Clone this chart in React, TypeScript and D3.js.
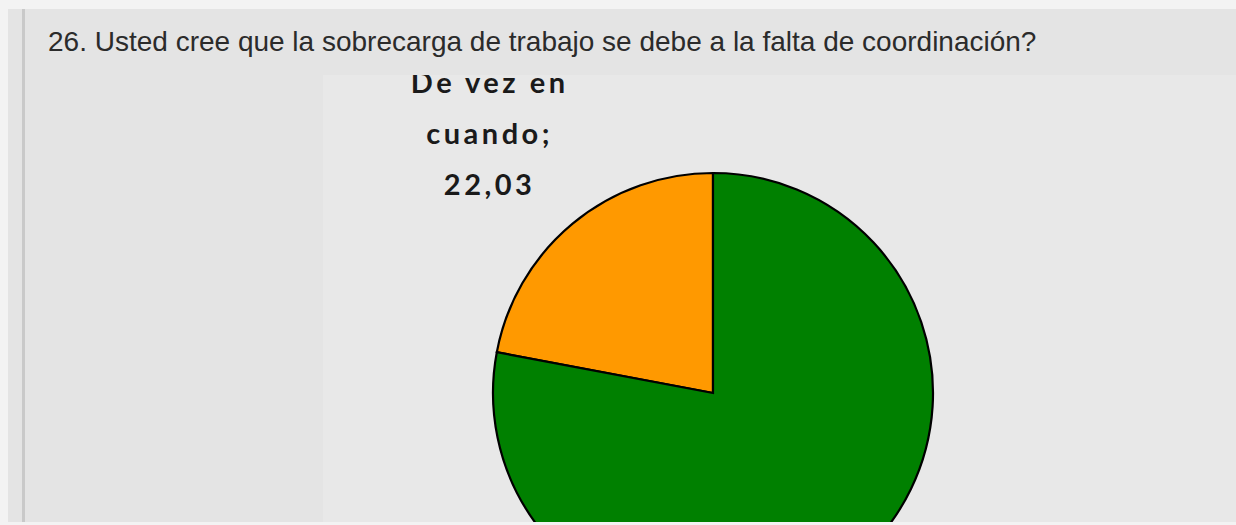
import React from 'react';
import * as d3 from 'd3';

const W = 1236;
const H = 525;

const title = '26. Usted cree que la sobrecarga de trabajo se debe a la falta de coordinación?';
const categories = ['De vez en cuando', 'Siempre'];
const values = [22.03, 77.97];
const colors = ['#ff9900', '#008000'];
// only the orange label is inside the visible panel
const labelLines = [['De vez en', 'cuando;', '22,03'], []];

export default function App() {
  const cx = 713;
  const cy = 393;
  const r = 220;

  const color = d3.scaleOrdinal<string, string>().domain(categories).range(colors);

  // orange slice sits just left of 12 o'clock, green fills the rest clockwise
  const pie = d3.pie<number>()
    .sort(null)
    .startAngle(-2 * Math.PI * values[0] / 100)
    .endAngle(2 * Math.PI - 2 * Math.PI * values[0] / 100);
  const arcs = pie(values);
  const arc = d3.arc<d3.PieArcDatum<number>>().innerRadius(0).outerRadius(r);
  const labelArc = d3.arc<d3.PieArcDatum<number>>().innerRadius(350).outerRadius(350);

  return (
    <svg width={W} height={H} style={{ position: 'absolute', left: 0, top: 0 }}>
      <defs>
        <clipPath id="panel">
          <rect x={323} y={75} width={W - 323} height={522 - 75} />
        </clipPath>
      </defs>
      <rect x={0} y={0} width={W} height={H} fill="#f3f3f3" />
      <rect x={8} y={9} width={W - 8} height={513} fill="#e4e4e4" />
      <rect x={22} y={9} width={3} height={513} fill="#c9c9c9" />
      <rect x={323} y={75} width={W - 323} height={522 - 75} fill="#e8e8e8" />
      <text x={48} y={51} fontFamily="'Liberation Sans', Arial, sans-serif" fontSize={28} fill="#2b2b2b">
        {title}
      </text>
      <g clipPath="url(#panel)">
        <g transform={`translate(${cx},${cy})`}>
          {arcs.map((a, i) => (
            <path key={categories[i]} d={arc(a) || ''} fill={color(categories[i])} stroke="#000" strokeWidth={2.2} />
          ))}
          {arcs.map((a, i) => {
            const lines = labelLines[i];
            if (!lines.length) return null;
            const [lx, ly] = labelArc.centroid(a);
            const step = 51;
            const y0 = ly - ((lines.length - 1) * step) / 2;
            return (
              <text key={'l' + i} x={lx} textAnchor="middle" fontFamily="Lato, 'Open Sans', sans-serif"
                fontWeight="bold" fontSize={29} letterSpacing={3.5} fill="#1a1a1a">
                {lines.map((t, j) => (
                  <tspan key={j} x={lx} y={y0 + j * step + 20}>{t}</tspan>
                ))}
              </text>
            );
          })}
        </g>
      </g>
    </svg>
  );
}
